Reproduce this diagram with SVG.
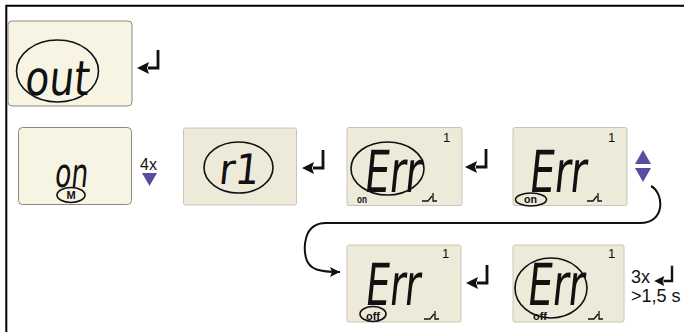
<svg xmlns="http://www.w3.org/2000/svg" width="684" height="332" viewBox="0 0 684 332">
<style>
.frame{fill:none;stroke:#000;stroke-width:2}
.lcd1{fill:#f8f4e4;stroke:#8c8a80;stroke-width:1}
.lcd2{fill:#eeeada;stroke:#c9c5b3;stroke-width:1}
.seg{font-family:"DejaVu Sans Condensed","DejaVu Sans",sans-serif;fill:#111}
.sm{font-family:"Liberation Sans",Arial,sans-serif;font-weight:bold;fill:#111}
.lbl{font-family:"Liberation Sans",Arial,sans-serif;fill:#111}
.ring{fill:none;stroke:#111;stroke-width:1.6}
.sw{fill:none;stroke:#111;stroke-width:1.3}
.tri{fill:#5a4c9f}
.conn{fill:none;stroke:#111;stroke-width:2}
</style>
<defs>
<g id="ret">
<path d="M0,-18 V1.4 M1.4,0 H-10" fill="none" stroke="#111" stroke-width="2.8"/>
<polygon points="-21,0 -9,-6 -11,0 -9,6" fill="#111"/>
</g>
<marker id="ah" markerUnits="userSpaceOnUse" markerWidth="12" markerHeight="12" refX="10" refY="6" orient="auto">
<polygon points="0,1 10,6 0,11 2,6" fill="#111"/>
</marker>
</defs>
<rect width="684" height="332" fill="#fff"/>
<path class="frame" d="M6.3,332 V5.7 H684"/>

<g id="node-out">
<rect class="lcd1" x="8" y="21" width="124" height="85" rx="4"/>
<text class="seg" transform="translate(24,95) skewX(-6)" font-size="48" textLength="64" lengthAdjust="spacingAndGlyphs">out</text>
<ellipse class="ring" cx="57.5" cy="71" rx="41" ry="31"/>
</g>

<g id="node-on">
<rect class="lcd1" x="18.5" y="127.5" width="113" height="77" rx="4" fill="#fbf8ec"/>
<text class="seg" transform="translate(54,187) skewX(-6)" font-size="40" textLength="33" lengthAdjust="spacingAndGlyphs">on</text>
<ellipse class="ring" cx="71" cy="195" rx="14" ry="7.5"/>
<text class="sm" x="71" y="199" font-size="11" text-anchor="middle">M</text>
</g>

<g id="node-r1">
<rect class="lcd2" x="183.5" y="128" width="113" height="77" rx="2"/>
<text class="seg" transform="translate(218,184) skewX(-6)" font-size="42" textLength="40" lengthAdjust="spacingAndGlyphs">r1</text>
<ellipse class="ring" cx="238.5" cy="167.5" rx="34.5" ry="25.5"/>
</g>

<g id="node-err1">
<rect class="lcd2" x="347" y="127.5" width="115" height="78" rx="2"/>
<text class="lbl" x="443" y="142" font-size="13">1</text>
<text class="seg" transform="translate(363,192) skewX(-6)" font-size="58" textLength="57" lengthAdjust="spacingAndGlyphs">Err</text>
<ellipse class="ring" cx="387.5" cy="168.5" rx="36.5" ry="26.5"/>
<text class="sm" x="357" y="203" font-size="10" textLength="10" lengthAdjust="spacingAndGlyphs">on</text>
<path class="sw" d="M422,201 H428 L432,196 M433,193 V201 H437"/>
</g>

<g id="node-err2">
<rect class="lcd2" x="513" y="127.5" width="114" height="78" rx="2"/>
<text class="lbl" x="608" y="142" font-size="13">1</text>
<text class="seg" transform="translate(528,192) skewX(-6)" font-size="58" textLength="57" lengthAdjust="spacingAndGlyphs">Err</text>
<text class="sm" x="524" y="203" font-size="10" textLength="13" lengthAdjust="spacingAndGlyphs">on</text>
<ellipse class="ring" cx="531" cy="199.5" rx="15.5" ry="6.5"/>
<path class="sw" d="M587,201 H593 L597,196 M598,193 V201 H602"/>
</g>

<g id="node-err3">
<rect class="lcd2" x="347" y="245" width="114" height="77" rx="2"/>
<text class="lbl" x="442" y="258" font-size="13">1</text>
<text class="seg" transform="translate(364,305) skewX(-6)" font-size="58" textLength="55" lengthAdjust="spacingAndGlyphs">Err</text>
<text class="sm" x="366" y="320" font-size="10" textLength="14" lengthAdjust="spacingAndGlyphs">off</text>
<ellipse class="ring" cx="373" cy="314" rx="13" ry="7.5"/>
<path class="sw" d="M424,319 H430 L434,314 M435,311 V319 H439"/>
</g>

<g id="node-err4">
<rect class="lcd2" x="513" y="245" width="111" height="77" rx="2"/>
<text class="lbl" x="608" y="258" font-size="13">1</text>
<text class="seg" transform="translate(526,305) skewX(-6)" font-size="58" textLength="57" lengthAdjust="spacingAndGlyphs">Err</text>
<ellipse class="ring" cx="551" cy="288" rx="36" ry="30"/>
<text class="sm" x="533" y="320" font-size="10" textLength="14" lengthAdjust="spacingAndGlyphs">off</text>
<path class="sw" d="M588,319 H594 L598,314 M599,311 V319 H603"/>
</g>

<g id="keys">
<use href="#ret" transform="translate(158,68)"/>
<use href="#ret" transform="translate(323,168)"/>
<use href="#ret" transform="translate(486,167)"/>
<use href="#ret" transform="translate(487,283)"/>
<use href="#ret" transform="translate(672,281) scale(0.85)"/>
<text class="lbl" x="140" y="170" font-size="16">4x</text>
<polygon class="tri" points="142,173 157,173 149.5,186"/>
<polygon class="tri" points="635,164 651,164 643,150"/>
<polygon class="tri" points="635,168 651,168 643,182"/>
<text class="lbl" x="631" y="283" font-size="18">3x</text>
<text class="lbl" x="631" y="301.5" font-size="18">&gt;1,5 s</text>
</g>

<g id="connectors">
<path class="conn" marker-end="url(#ah)" d="M651,186 C664,193 666,223 640,223 H326 C302,223 304,250 306,258 C309,270 320,272 340,272"/>
</g>
</svg>
